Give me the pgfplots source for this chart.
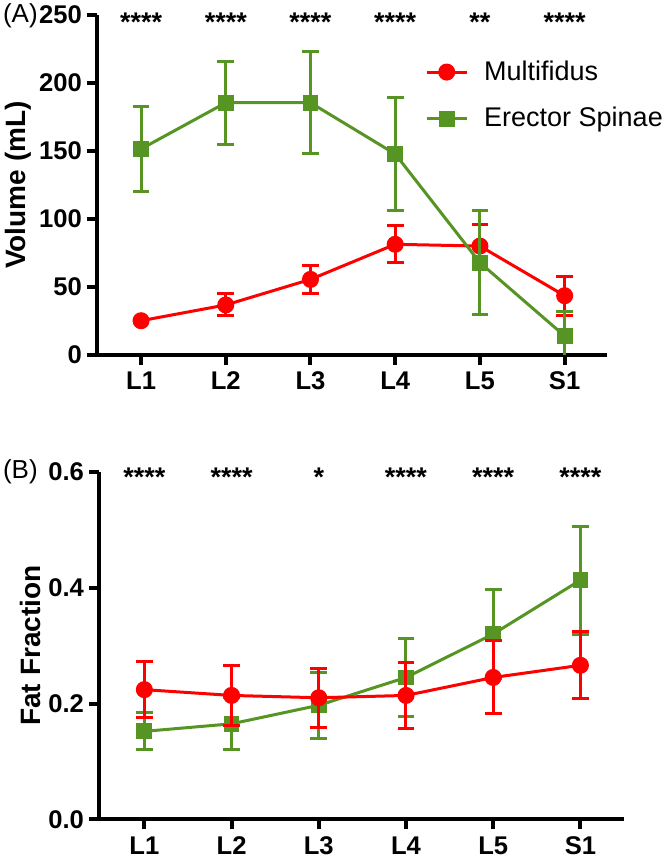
\documentclass[border=0pt]{standalone}
\usepackage{pgfplots}
\pgfplotsset{compat=1.18}
\usepackage{fontspec}
\setmainfont{Liberation Sans}

\definecolor{mfred}{RGB}{255,0,0}
\definecolor{esgreen}{RGB}{86,148,36}

\tikzset{stars/.style={font=\fontsize{13.5}{15}\selectfont\bfseries}}

\pgfplotsset{
  panel/.style={
    scale only axis,
    anchor=south west,
    axis x line=bottom, axis y line=left,
    axis line style={line width=2pt,-},
    tick style={line width=2pt,black},
    major tick length=5pt,
    tick align=outside,
    xtick pos=bottom, ytick pos=left,
    xmin=0.48, xmax=6.5,
    xtick={1,2,3,4,5,6},
    xticklabels={L1,L2,L3,L4,L5,S1},
    /pgf/number format/assume math mode=true,
    tick label style={font=\fontsize{12.8}{14}\selectfont\bfseries},
    label style={font=\fontsize{14}{16}\selectfont\bfseries},
    yticklabel style={xshift=1pt},
    clip mode=individual,
    error bars/y dir=both, error bars/y explicit,
    error bars/error bar style={line width=1.5pt},
    error bars/error mark options={rotate=90,mark size=4.2pt,line width=1.5pt},
  },
  mf/.style={color=mfred, line width=1.5pt, mark=*, mark size=3.5pt,
    mark options={solid,fill=mfred,draw=mfred}},
  es/.style={color=esgreen, line width=1.5pt, mark=square*, mark size=3.2pt,
    mark options={solid,fill=esgreen,draw=esgreen}},
}

\begin{document}
\begin{tikzpicture}
\useasboundingbox (0,0) rectangle (333.5pt,-430pt);

% ---- panel A: volume
\begin{axis}[panel,
    at={(48.5pt,-177.5pt)},
    width=255pt, height=170pt,
    ymin=0, ymax=250, ytick={0,50,100,150,200,250},
    ylabel={Volume (mL)},
    ylabel style={yshift=-3pt},
    legend style={at={(0.631,0.89)}, anchor=north west, draw=none, fill=none,
      font=\fontsize{13.5}{15}\selectfont, row sep=8pt},
    legend cell align=left,
    legend image code/.code={
      \draw[#1,mark=none] (0pt,0pt) -- (20pt,0pt);
      \draw[#1] plot coordinates {(10pt,0pt)};},
]
\addplot[mf] coordinates {
(1,25.2) +- (0,0) (2,36.8) +- (0,8.1) (3,55.6) +- (0,10.2)
(4,81.4) +- (0,13.5) (5,80.1) +- (0,15.6) (6,43.6) +- (0,14.4)
};
\addlegendentry{\hspace{6pt}Multifidus}
\addplot[es] coordinates {
(1,151.5) +- (0,31.5) (2,185.5) +- (0,30.6) (3,185.5) +- (0,37.3)
(4,147.8) +- (0,41.5) (5,67.9) +- (0,38.2) (6,14.0) +- (0,17.8)
};
\addlegendentry{\hspace{6pt}Erector Spinae}
\node[stars] at (axis cs:1,245) {****};
\node[stars] at (axis cs:2,245) {****};
\node[stars] at (axis cs:3,245) {****};
\node[stars] at (axis cs:4,245) {****};
\node[stars] at (axis cs:5,245) {**};
\node[stars] at (axis cs:6,245) {****};
\end{axis}
\node[anchor=west,font=\fontsize{13}{15}\selectfont] at (-2pt,-8pt) {(A)};

% ---- panel B: fat fraction
\begin{axis}[panel,
    at={(49.5pt,-409.7pt)},
    width=262.5pt, height=173.8pt,
    ymin=0, ymax=0.6, ytick={0,0.2,0.4,0.6},
    yticklabel style={/pgf/number format/.cd, fixed, fixed zerofill, precision=1},
    ylabel={Fat Fraction},
    ylabel style={yshift=-3pt},
]
\addplot[es] coordinates {
(1,0.152) +- (0,0.032) (2,0.165) +- (0,0.045) (3,0.197) +- (0,0.057)
(4,0.245) +- (0,0.068) (5,0.320) +- (0,0.076) (6,0.413) +- (0,0.093)
};
\addplot[mf] coordinates {
(1,0.224) +- (0,0.048) (2,0.214) +- (0,0.052) (3,0.210) +- (0,0.051)
(4,0.214) +- (0,0.057) (5,0.245) +- (0,0.063) (6,0.266) +- (0,0.058)
};
\node[stars] at (axis cs:1,0.59) {****};
\node[stars] at (axis cs:2,0.59) {****};
\node[stars] at (axis cs:3,0.59) {*};
\node[stars] at (axis cs:4,0.59) {****};
\node[stars] at (axis cs:5,0.59) {****};
\node[stars] at (axis cs:6,0.59) {****};
\end{axis}
\node[anchor=west,font=\fontsize{13}{15}\selectfont] at (-2pt,-236pt) {(B)};
\end{tikzpicture}
\end{document}
